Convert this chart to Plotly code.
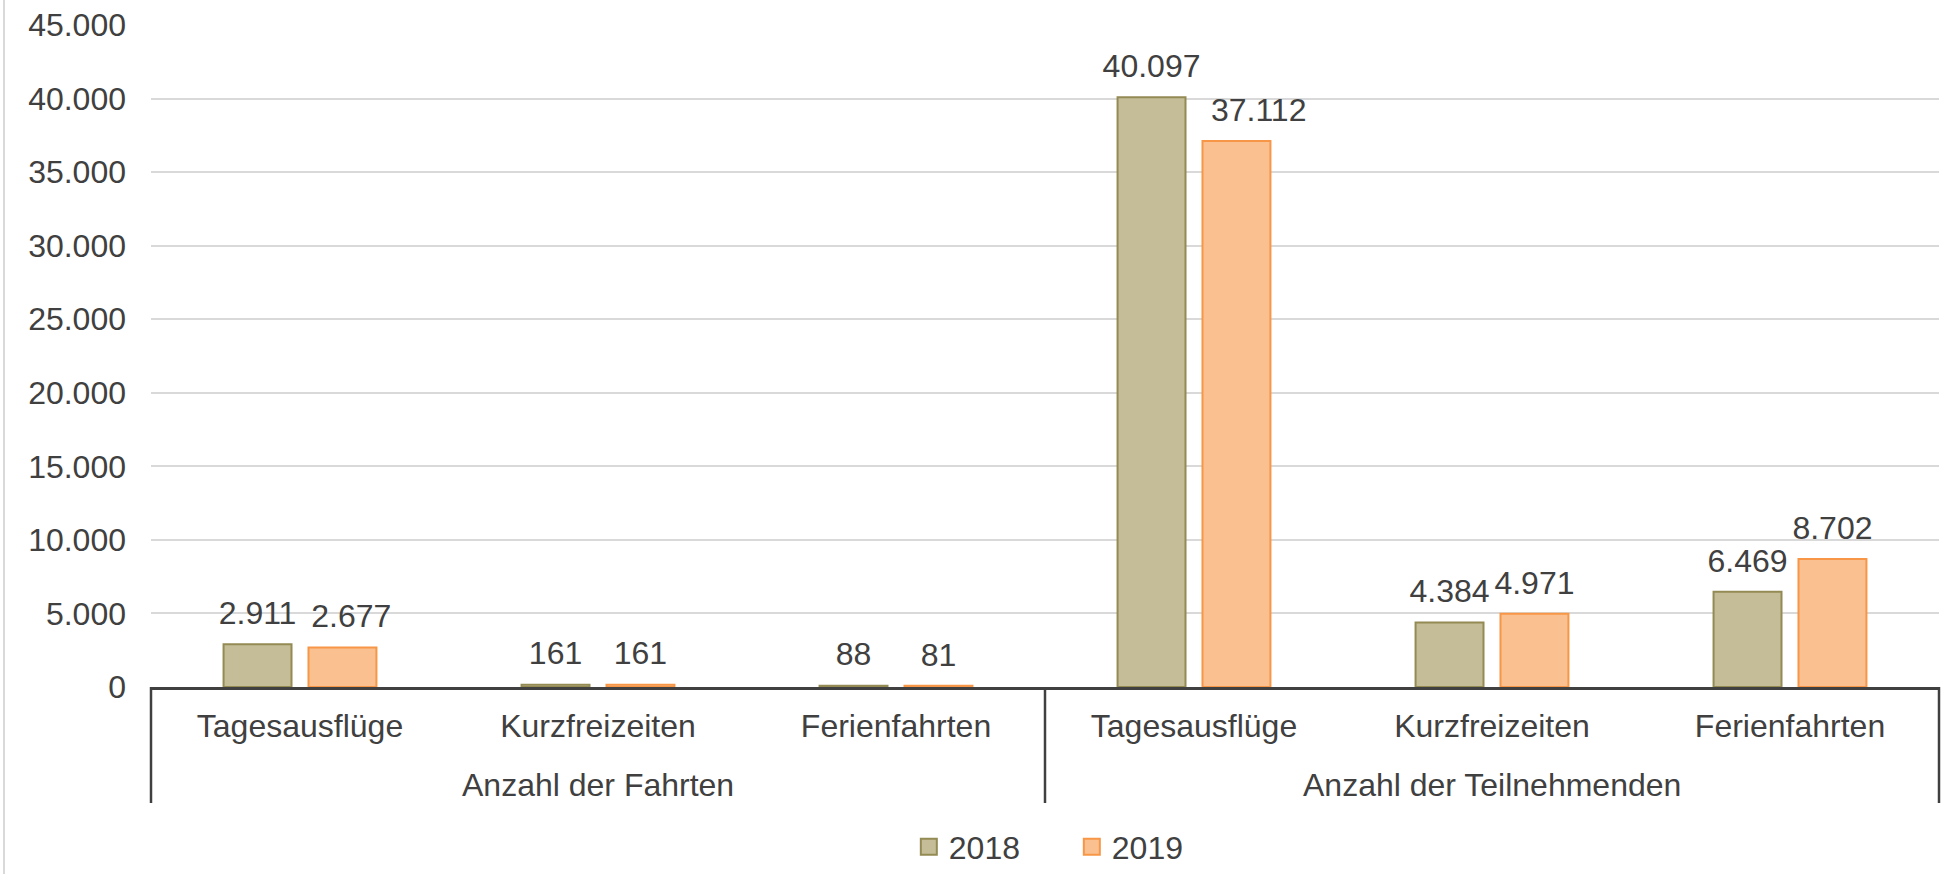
import plotly.graph_objects as go

groups = ["Anzahl der Fahrten"] * 3 + ["Anzahl der Teilnehmenden"] * 3
categories = ["Tagesausflüge", "Kurzfreizeiten", "Ferienfahrten"] * 2
values_2018 = [2911, 161, 88, 40097, 4384, 6469]
values_2019 = [2677, 161, 81, 37112, 4971, 8702]
series_names = ["2018", "2019"]
tick_vals = [0, 5000, 10000, 15000, 20000, 25000, 30000, 35000, 40000, 45000]

FONT = "Liberation Sans, Arial, sans-serif"
TXT = "#404040"
FS = 32
W, H = 1955, 874
ML, MR, MT, MB = 151, 16, 25, 187
PW, PH = W - ML - MR, H - MT - MB


def py(px):  # pixel row -> paper y
    return (H - MB - px) / PH


def fmt(v):
    return f"{v:,}".replace(",", ".")


ids = [f"{g}|{c}" for g, c in zip(groups, categories)]
fills = ["#C4BD97", "#FAC090"]
borders = ["#948A54", "#F79646"]
# small manual nudges of some data labels (as in the original)
nudge_2019 = {0: "\u00a0\u00a0", 3: "\u00a0\u00a0\u00a0\u00a0\u00a0"}

fig = go.Figure()
for name, vals, fc, bc, og in zip(series_names, [values_2018, values_2019], fills, borders, ["a", "b"]):
    fig.add_trace(go.Bar(
        x=ids, y=vals, name=name, offsetgroup=og, showlegend=False,
        marker=dict(color=fc, line=dict(color=bc, width=2)),
    ))
for k, (name, vals, og) in enumerate(zip(series_names, [values_2018, values_2019], ["a", "b"])):
    labels = []
    for i, v in enumerate(vals):
        pre = nudge_2019.get(i, "") if k == 1 else ""
        labels.append(pre + fmt(v))
    fig.add_trace(go.Scatter(
        x=ids, y=vals, mode="markers+text", offsetgroup=og, showlegend=False,
        text=labels, textposition="top center",
        marker=dict(size=18, opacity=0),
        textfont=dict(family=FONT, size=FS, color=TXT),
        hoverinfo="skip", cliponaxis=False,
    ))
# legend entries
for name, fc, bc in zip(series_names, fills, borders):
    fig.add_trace(go.Scatter(
        x=[None], y=[None], mode="markers", name=name,
        marker=dict(symbol="square", size=16, color=fc, line=dict(color=bc, width=2)),
    ))

fig.update_layout(
    width=W, height=H,
    margin=dict(l=ML, r=MR, t=MT, b=MB, autoexpand=False),
    paper_bgcolor="white", plot_bgcolor="white",
    barmode="group", bargap=0.43, bargroupgap=0.2,
    scattermode="group", scattergap=0.43,
    separators=",.",
    font=dict(family=FONT, size=FS, color=TXT),
    legend=dict(orientation="h", x=0.515, xanchor="center", xref="paper",
                y=1 - 847 / H, yanchor="middle", yref="container",
                font=dict(family=FONT, size=FS, color=TXT),
                itemsizing="trace", entrywidth=118, entrywidthmode="pixels",
                bgcolor="rgba(0,0,0,0)"),
    showlegend=True,
)
fig.update_yaxes(
    range=[0, 45000], tickvals=tick_vals, tickformat=",d",
    showgrid=True, gridcolor="#D9D9D9", gridwidth=1.5,
    zeroline=False, showline=False, ticks="", automargin=False,
    tickfont=dict(family=FONT, size=FS, color=TXT),
    ticklabelstandoff=24,
)
fig.update_xaxes(
    type="category", categoryorder="array", categoryarray=ids,
    tickmode="array", tickvals=ids, ticktext=categories,
    showline=True, linecolor=TXT, linewidth=2.5,
    ticks="", automargin=False, showgrid=False,
    tickfont=dict(family=FONT, size=FS, color=TXT),
    ticklabelstandoff=9,
)

# group labels and dividers
uniq = list(dict.fromkeys(groups))
n = len(groups)
edges = [0.0]
for g in uniq:
    idx = [i for i, gg in enumerate(groups) if gg == g]
    x0, x1 = idx[0] / n, (idx[-1] + 1) / n
    fig.add_annotation(text=g, x=(x0 + x1) / 2, xref="paper", xanchor="center",
                       y=py(784.5), yref="paper", yanchor="middle", showarrow=False,
                       font=dict(family=FONT, size=FS, color=TXT))
    edges.append(x1)
for e in edges:
    fig.add_shape(type="line", xref="paper", yref="paper", x0=e, x1=e,
                  y0=py(687), y1=py(803), line=dict(color=TXT, width=2.5))

fig.add_shape(type="line", xref="paper", yref="paper",
              x0=(4 - ML) / PW, x1=(4 - ML) / PW, y0=py(H + 5), y1=py(-5),
              line=dict(color="#D9D9D9", width=2))

fig.write_html("out.html", config={"displayModeBar": False},
               post_script="document.body.style.margin='0';document.body.style.overflow='hidden';")
